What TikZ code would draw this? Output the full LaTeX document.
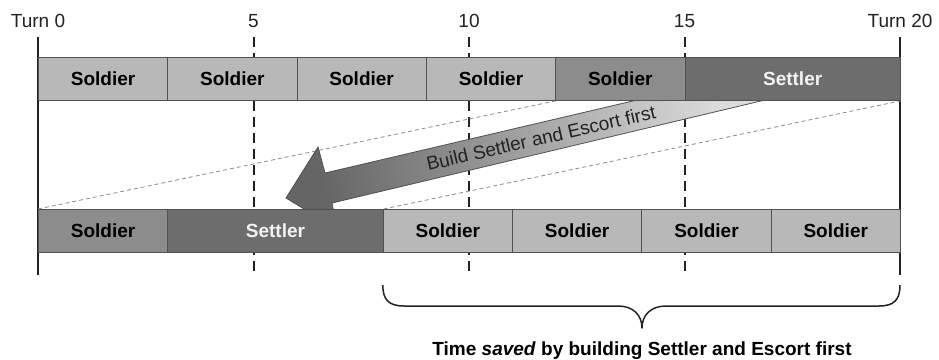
\documentclass[tikz,border=0pt]{standalone}
\usepackage{fontspec}
\setmainfont{Liberation Sans}
\definecolor{celllight}{HTML}{B8B8B8}
\definecolor{cellmid}{HTML}{8C8C8C}
\definecolor{celldark}{HTML}{6D6D6D}
\definecolor{edgegray}{HTML}{505050}
\definecolor{inkdark}{HTML}{222222}
\definecolor{guidegray}{HTML}{8A8A8A}
\definecolor{settlertext}{HTML}{F2F2F2}
\definecolor{arrowhead}{HTML}{656565}
\definecolor{arrowtail}{HTML}{DCDCDC}
\pgfdeclarelayer{under}
\pgfsetlayers{under,main}
\begin{document}
\begin{tikzpicture}[x=1pt,y=-1pt,
  every node/.style={font=\fontsize{19}{22}\selectfont},
  cell/.style={draw=edgegray, line width=0.8pt, minimum height=43pt,
    inner sep=0pt, anchor=north west, font=\fontsize{19}{22}\selectfont\bfseries},
  soldier/.style={cell, fill=celllight, minimum width=129.3pt},
  soldiermid/.style={cell, fill=cellmid, minimum width=129.3pt},
  settler/.style={cell, fill=celldark, minimum width=215.5pt, text=settlertext},
  turnline/.style={draw=inkdark, line width=1.4pt},
  turndash/.style={draw=inkdark, line width=2pt, dash pattern=on 10pt off 6pt},
  guide/.style={draw=guidegray, line width=0.8pt, dash pattern=on 4pt off 3pt},
  bracepath/.style={draw=inkdark, line width=1.5pt, line join=round},
  ticklabel/.style={anchor=base, inner sep=0pt, text=inkdark}]
\useasboundingbox (0,0) rectangle (939,359);

% tick labels
\node[ticklabel] (l0)  at (38,27)    {Turn 0};
\node[ticklabel] (l5)  at (253.5,27) {5};
\node[ticklabel] (l10) at (469,27)   {10};
\node[ticklabel] (l15) at (684.5,27) {15};
\node[ticklabel] (l20) at (900,27)   {Turn 20};

% build order before the change
\path (38,57)    node[soldier] (t1) {Soldier}
      (167.3,57) node[soldier] (t2) {Soldier}
      (296.6,57) node[soldier] (t3) {Soldier}
      (425.9,57) node[soldier] (t4) {Soldier}
      (555.2,57) node[soldiermid] (t5) {Soldier}
      (684.5,57) node[settler] (t6) {Settler};
% build order with Settler and Escort first
\path (38,209)    node[soldiermid] (b1) {Soldier}
      (167.3,209) node[settler] (b2) {Settler}
      (382.8,209) node[soldier] (b3) {Soldier}
      (512.1,209) node[soldier] (b4) {Soldier}
      (641.4,209) node[soldier] (b5) {Soldier}
      (770.7,209) node[soldier] (b6) {Soldier};

\begin{pgfonlayer}{under}
  % turn marker lines run behind the bars
  \foreach \n/\x in {0/38, 5/253.5, 10/469, 15/684.5, 20/900}{
    \coordinate (k\n a) at (\x,37);
    \coordinate (k\n b) at (\x,275);
  }
  \draw[turnline] (k0a) -- (k0b);
  \draw[turnline] (k20a) -- (k20b);
  \draw[turndash] (k5a) -- (k5b);
  \draw[turndash] (k10a) -- (k10b);
  \draw[turndash] (k15a) -- (k15b);

  % guide lines showing the shift
  \draw[guide] (b1.north west) -- (t4.south east);
  \draw[guide] (b2.north east) -- (t6.south east);

  % shift arrow, its tail tucked under the upper bar
  \path[draw=edgegray, line width=0.8pt, line join=miter,
        top color=arrowtail, bottom color=arrowhead, shading angle=-77]
    (286,198) -- (318,147) -- (325,173) -- (637,100) -- (765,100)
    -- (332,203) -- (337,229) -- cycle;
  \node[rotate=13, text=inkdark, inner sep=0pt] (shift) at (541,138)
    {Build Settler and Escort first};
\end{pgfonlayer}

% brace over the saved turns
\coordinate (bl) at (382.8,285);
\coordinate (br) at (900,285);
\coordinate (tip) at (642,328);
\draw[bracepath] (bl) .. controls (382.8,300) and (389,306) .. (404,306)
  -- (618,306) .. controls (633,306) and (642,315) .. (tip)
  .. controls (642,315) and (651,306) .. (666,306)
  -- (879,306) .. controls (894,306) and (900,300) .. (br);
\node[anchor=base, inner sep=0pt, font=\fontsize{19}{22}\selectfont\bfseries, text=black]
  (saved) at (642,355) {Time \textit{saved} by building Settler and Escort first};
\end{tikzpicture}
\end{document}
